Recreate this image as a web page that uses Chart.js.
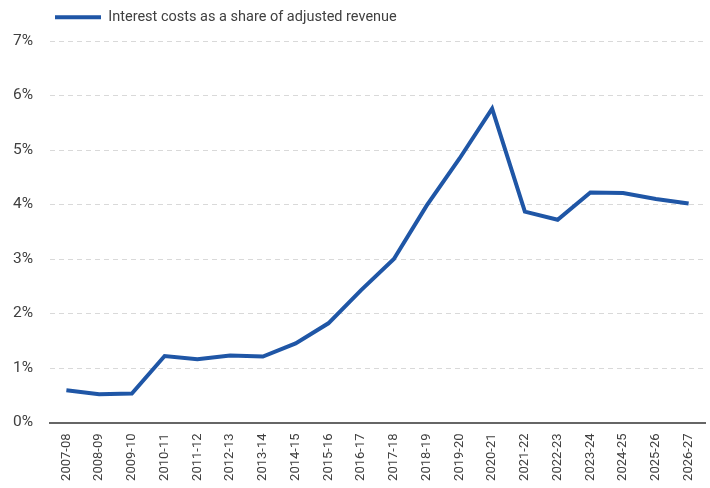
<!DOCTYPE html>
<html lang="en">
<head>
    <meta charset="UTF-8">
    <title>Interest costs</title>
    <script src="https://cdn.jsdelivr.net/npm/chart.js"></script>
    <style>
        body { margin: 0; background: #fff; }
        .chart-container { width: 710px; height: 488px; }
    </style>
</head>
<body>
    <div class="chart-container">
        <canvas id="interestChart"></canvas>
    </div>
    <script>
        const years = ["2007-08", "2008-09", "2009-10", "2010-11", "2011-12", "2012-13", "2013-14",
            "2014-15", "2015-16", "2016-17", "2017-18", "2018-19", "2019-20", "2020-21",
            "2021-22", "2022-23", "2023-24", "2024-25", "2025-26", "2026-27"];
        const interestShare = [0.59, 0.52, 0.53, 1.22, 1.16, 1.23, 1.21, 1.45, 1.82, 2.43,
            3.0, 3.98, 4.84, 5.76, 3.87, 3.72, 4.22, 4.21, 4.1, 4.02];
        const yTicks = [0, 1, 2, 3, 4, 5, 6, 7];

        const fontFamily = "'Roboto', sans-serif";

        // push the legend right so it starts above the plot area
        const legendShift = {
            id: "legendShift",
            afterLayout(chart) {
                chart.legend.left += 45;
                chart.legend.right += 45;
            }
        };

        new Chart(document.getElementById("interestChart"), {
            type: "line",
            data: {
                labels: years,
                datasets: [{
                    label: "Interest costs as a share of adjusted revenue",
                    data: interestShare,
                    borderColor: "#1f56a6",
                    backgroundColor: "#1f56a6",
                    borderWidth: 4,
                    pointRadius: 0,
                    tension: 0,
                    fill: false
                }]
            },
            options: {
                responsive: true,
                maintainAspectRatio: false,
                animation: false,
                layout: { padding: { left: 0, right: 5, top: 0, bottom: 0 } },
                plugins: {
                    legend: {
                        align: "start",
                        labels: {
                            boxWidth: 46,
                            boxHeight: 0,
                            padding: 10,
                            color: "#404040",
                            font: { family: fontFamily, size: 14.5 }
                        }
                    },
                    // empty spacer between legend and plot
                    title: {
                        display: true,
                        text: "",
                        weight: 500,
                        padding: 0,
                        font: { size: 6.5, lineHeight: 1 }
                    },
                    tooltip: { enabled: false }
                },
                scales: {
                    x: {
                        offset: true,
                        afterFit: (axis) => { axis.height = 65.5; },
                        grid: { display: false },
                        border: { color: "#666666", width: 2 },
                        ticks: {
                            color: "#404040",
                            maxRotation: 90,
                            minRotation: 90,
                            autoSkip: false,
                            font: { family: fontFamily, size: 13 }
                        }
                    },
                    y: {
                        min: 0,
                        max: 7,
                        afterBuildTicks: (axis) => { axis.ticks = yTicks.map(v => ({ value: v })); },
                        afterFit: (axis) => { axis.width = 50; },
                        grid: { color: "#d9d9d9", drawTicks: false },
                        border: { display: false, dash: [5, 4] },
                        ticks: {
                            color: "#404040",
                            padding: 17,
                            font: { family: fontFamily, size: 15.5 },
                            callback: (v) => v + "%"
                        }
                    }
                }
            },
            plugins: [legendShift]
        });
    </script>
</body>
</html>
